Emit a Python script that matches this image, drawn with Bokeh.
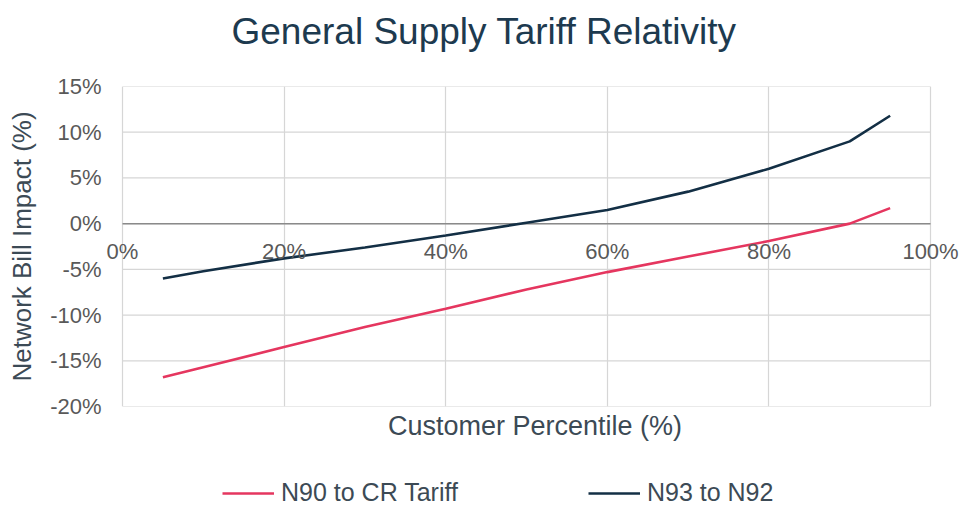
from bokeh.plotting import figure
from bokeh.layouts import column
from bokeh.models import (Range1d, FixedTicker, PrintfTickFormatter, CustomJSTickFormatter,
                          Legend, LegendItem, LabelSet, ColumnDataSource, Title, LinearAxis)
from bokeh.core.properties import value
from bokeh.embed import file_html
from bokeh.resources import INLINE

# ---- data ----
percentile = [5, 10, 20, 30, 40, 50, 60, 70, 80, 90, 95]
n90_to_cr = [-16.8, -15.7, -13.5, -11.3, -9.3, -7.2, -5.3, -3.6, -1.9, 0.0, 1.7]
n93_to_n92 = [-6.0, -5.2, -3.8, -2.6, -1.3, 0.1, 1.5, 3.5, 6.0, 9.0, 11.8]
x_ticks = [0, 20, 40, 60, 80, 100]
x_tick_labels = ["0%", "20%", "40%", "60%", "80%", "100%"]
y_ticks = [-20, -15, -10, -5, 0, 5, 10, 15]
series_names = ["N90 to CR Tariff", "N93 to N92"]

FONT = "Liberation Sans"
RED = "#e5365f"
NAVY = "#132f45"
GRID = "#d6d6d6"
TXT = "#3c4a55"

X0, X1 = x_ticks[0], x_ticks[-1]
Y0, Y1 = y_ticks[0], y_ticks[-1]

p = figure(width=963, height=465, output_backend="svg", toolbar_location=None,
           x_range=Range1d(X0 - 1.98, X1 + 4.08), y_range=Range1d(Y0, Y1),
           min_border_left=106, min_border_right=0, min_border_top=86, min_border_bottom=59)

# invisible spacer between title and plot area, then the title itself
spacer = LinearAxis(ticker=FixedTicker(ticks=[50]), axis_line_color=None,
                    major_tick_line_color=None, minor_tick_line_color=None,
                    major_tick_in=0, major_tick_out=30, minor_tick_out=0,
                    major_label_standoff=0, major_label_text_font_size="1px",
                    formatter=CustomJSTickFormatter(code="return ''"))
p.add_layout(spacer, "above")
p.add_layout(Title(text="General Supply  Tariff Relativity", align="left", offset=125,
                   text_font=FONT, text_font_size="37px", text_font_style="normal",
                   text_color="#1d3a4f"), "above")

p.outline_line_color = None
p.background_fill_color = "white"
p.border_fill_color = "white"

# grid: vertical lines from the normal grid, horizontal lines limited to 0..100
p.xgrid.ticker = FixedTicker(ticks=x_ticks)
p.xgrid.grid_line_color = GRID
p.xgrid.grid_line_width = 1.2
p.ygrid.grid_line_color = None
p.segment(x0=[X0] * len(y_ticks), x1=[X1] * len(y_ticks), y0=y_ticks, y1=y_ticks,
          line_color=GRID, line_width=1.2)
# horizontal axis line at 0
p.segment(x0=[X0], x1=[X1], y0=[0], y1=[0], line_color="#8a8a8a", line_width=1.5)

# x axis below (label only)
xa = p.below[0]
xa.ticker = FixedTicker(ticks=x_ticks)
xa.formatter = CustomJSTickFormatter(code="return ''")
xa.axis_line_color = None
xa.major_tick_line_color = None
xa.minor_tick_line_color = None
xa.major_tick_out = 0
xa.minor_tick_out = 0
xa.major_label_standoff = 0
xa.axis_label = "Customer Percentile (%)"
xa.axis_label_text_font = FONT
xa.axis_label_text_font_size = "27px"
xa.axis_label_text_font_style = "normal"
xa.axis_label_text_color = TXT
xa.axis_label_standoff = 4

# y axis
ya = p.left[0]
ya.ticker = FixedTicker(ticks=y_ticks)
ya.formatter = PrintfTickFormatter(format="%d%%")
ya.axis_line_color = None
ya.major_tick_line_color = None
ya.minor_tick_line_color = None
ya.major_tick_out = 0
ya.minor_tick_out = 0
ya.major_label_text_font = FONT
ya.major_label_text_font_size = "22px"
ya.major_label_text_color = "#595959"
ya.major_label_standoff = 5
ya.axis_label = "Network Bill Impact (%)"
ya.axis_label_text_font = FONT
ya.axis_label_text_font_size = "26px"
ya.axis_label_text_font_style = "normal"
ya.axis_label_text_color = TXT
ya.axis_label_standoff = 10

# x tick labels sitting under the zero line
src = ColumnDataSource(dict(x=x_ticks, y=[0] * len(x_ticks), t=x_tick_labels))
p.add_layout(LabelSet(x="x", y="y", text="t", source=src, y_offset=-15,
                      text_align="center", text_baseline="top",
                      text_font=value(FONT), text_font_size=value("22px"),
                      text_color="#595959"))

p.line(percentile, n90_to_cr, line_color=RED, line_width=2.6)
p.line(percentile, n93_to_n92, line_color=NAVY, line_width=2.6)

# legend strip below the chart
lg = figure(width=963, height=42, output_backend="svg", toolbar_location=None,
            x_axis_location=None, y_axis_location=None,
            x_range=Range1d(200, 201), y_range=Range1d(200, 201), min_border=0)
lg.outline_line_color = None
lg.background_fill_color = "white"
lg.border_fill_color = "white"
lg.grid.visible = False
k1 = lg.line(percentile, n90_to_cr, line_color=RED, line_width=2.6)
k2 = lg.line(percentile, n93_to_n92, line_color=NAVY, line_width=2.6)
legend = Legend(items=[LegendItem(label=series_names[0], renderers=[k1]),
                       LegendItem(label=series_names[1], renderers=[k2])],
                orientation="horizontal", location=(116, 0),
                label_text_font=FONT, label_text_font_size="25px", label_text_color=TXT,
                glyph_width=52, glyph_height=20, spacing=130, label_standoff=7,
                padding=0, margin=0, border_line_color=None, background_fill_alpha=0)
lg.add_layout(legend)

layout = column(p, lg, spacing=0)
open("out.html", "w").write(file_html(layout, INLINE))
